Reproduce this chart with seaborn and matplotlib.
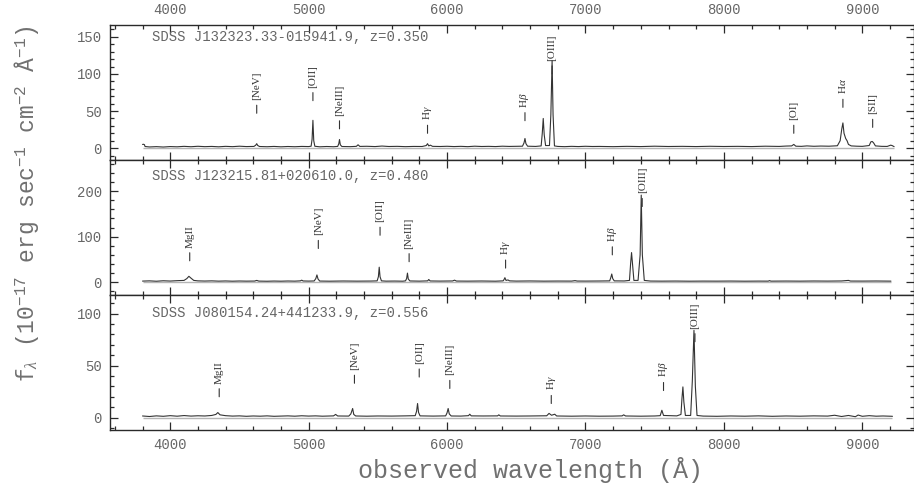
import matplotlib
matplotlib.use("Agg")
import matplotlib.pyplot as plt
from matplotlib.ticker import MultipleLocator
import pandas as pd
import seaborn as sns

# ---------------------------------------------------------------- data
# SDSS J132323.33-015941.9, z = 0.350
wave_a = [3800, 3808, 3814, 3818, 3850, 3900, 3950, 4000, 4050, 4100, 4150, 4200,
          4250, 4300, 4350, 4400, 4450, 4500, 4550, 4605, 4618, 4625, 4632, 4645,
          4700, 4750, 4800, 4850, 4900, 4950, 5000, 5018, 5025, 5031, 5037, 5045,
          5080, 5130, 5180, 5210, 5218, 5223, 5229, 5240, 5300, 5345, 5357, 5370,
          5420, 5480, 5530, 5580, 5640, 5700, 5760, 5820, 5850, 5859, 5868, 5880,
          5895, 5950, 6000, 6050, 6100, 6150, 6200, 6250, 6300, 6350, 6400, 6450,
          6500, 6545, 6556, 6563, 6570, 6582, 6640, 6680, 6688, 6695, 6702, 6712,
          6740, 6750, 6759, 6766, 6776, 6800, 6850, 6900, 6950, 7000, 7050, 7100,
          7200, 7300, 7400, 7500, 7600, 7700, 7800, 7900, 8000, 8100, 8200, 8300,
          8400, 8450, 8490, 8505, 8520, 8560, 8600, 8650, 8700, 8760, 8820, 8840,
          8852, 8860, 8868, 8880, 8890, 8900, 8920, 8960, 9000, 9050, 9062, 9072,
          9082, 9095, 9140, 9180, 9205, 9215, 9230]
flux_a = [5.0, 5.2, 4.6, 2.2, 1.6, 2.0, 1.5, 2.1, 1.8, 2.4, 1.9, 2.5,
          2.0, 2.3, 1.8, 2.4, 2.0, 2.6, 2.1, 2.3, 4.0, 6.0, 3.6, 2.2,
          1.9, 2.3, 1.8, 2.2, 1.9, 2.3, 2.1, 2.6, 12.0, 37.5, 10.0, 2.5,
          1.8, 2.2, 1.9, 2.3, 6.0, 11.6, 4.5, 2.2, 2.0, 2.4, 4.5, 2.3,
          2.5, 2.1, 2.8, 2.2, 2.4, 2.0, 2.3, 2.2, 3.5, 6.0, 3.0, 4.0,
          2.4, 2.2, 2.5, 2.1, 2.4, 2.0, 2.6, 2.2, 2.4, 2.1, 2.6, 2.3,
          2.5, 2.6, 7.0, 13.0, 6.0, 2.6, 2.3, 3.0, 20.0, 40.0, 18.0, 3.5,
          3.5, 45.0, 118.0, 45.0, 3.0, 2.3, 2.0, 2.4, 2.1, 2.5, 2.2, 2.3,
          2.0, 2.4, 2.1, 2.6, 2.2, 2.4, 2.1, 2.5, 2.2, 2.4, 2.1, 2.6,
          2.3, 2.8, 3.0, 5.0, 2.6, 2.4, 3.0, 2.5, 2.8, 2.6, 3.2, 10.0,
          26.0, 34.0, 20.0, 13.0, 10.0, 5.0, 3.0, 2.6, 2.4, 3.5, 8.5, 9.0,
          7.0, 3.0, 2.4, 2.3, 4.0, 3.5, 2.0]
lines_a = ["[NeV]", "[OII]", "[NeIII]", r"H$\gamma$", r"H$\beta$", "[OIII]",
           "[OI]", r"H$\alpha$", "[SII]"]
line_wave_a = [4625, 5031, 5223, 5859, 6563, 6759, 8505, 8860, 9075]
line_mark_a = [47, 64, 26, 20, 37, 100, 20, 55, 28]

# SDSS J123215.81+020610.0, z = 0.480
wave_b = [3800, 3850, 3900, 3950, 4000, 4050, 4100, 4120, 4135, 4150, 4170, 4200,
          4250, 4300, 4350, 4400, 4450, 4500, 4550, 4610, 4625, 4640, 4700, 4750,
          4800, 4850, 4900, 4940, 4950, 4960, 5000, 5040, 5052, 5060, 5068, 5080,
          5150, 5250, 5350, 5450, 5495, 5504, 5510, 5516, 5526, 5560, 5620, 5680,
          5700, 5708, 5714, 5720, 5732, 5800, 5860, 5868, 5878, 5950, 6040, 6054,
          6068, 6150, 6250, 6350, 6405, 6412, 6418, 6426, 6440, 6452, 6500, 6600,
          6700, 6800, 6900, 6925, 6940, 7000, 7100, 7175, 7183, 7190, 7197, 7208,
          7280, 7318, 7326, 7333, 7340, 7350, 7380, 7395, 7403, 7411, 7425, 7470,
          7550, 7650, 7750, 7850, 7950, 8050, 8150, 8250, 8320, 8330, 8340, 8450,
          8550, 8650, 8750, 8850, 8900, 8915, 9000, 9100, 9207]
flux_b = [2.5, 3.0, 2.2, 3.2, 2.6, 3.4, 4.0, 8.0, 13.0, 9.0, 4.0, 3.0,
          2.6, 3.0, 2.4, 2.8, 2.3, 2.7, 2.4, 2.6, 4.0, 2.5, 2.2, 2.6,
          2.3, 2.7, 2.4, 3.0, 4.5, 2.8, 2.5, 2.8, 8.0, 16.0, 7.0, 2.6,
          2.3, 2.7, 2.4, 2.6, 3.0, 12.0, 33.0, 12.0, 3.0, 2.4, 2.6, 2.3,
          3.0, 8.0, 20.0, 7.0, 2.8, 2.4, 3.0, 6.0, 2.8, 2.5, 2.8, 4.5,
          2.6, 2.4, 2.7, 2.3, 3.0, 6.0, 10.0, 4.0, 5.0, 3.0, 2.5, 2.8,
          2.4, 2.6, 2.5, 3.5, 2.6, 2.5, 2.7, 3.0, 10.0, 18.0, 8.0, 3.0,
          2.8, 4.0, 40.0, 65.0, 40.0, 4.0, 4.0, 60.0, 191.0, 60.0, 4.0, 2.6,
          2.4, 2.6, 2.3, 2.5, 2.4, 2.6, 2.3, 2.5, 2.4, 3.5, 2.4, 2.6,
          2.4, 2.7, 2.5, 2.8, 4.0, 2.6, 2.5, 2.7, 2.4]
lines_b = ["MgII", "[NeV]", "[OII]", "[NeIII]", r"H$\gamma$", r"H$\beta$", "[OIII]"]
line_wave_b = [4141, 5070, 5516, 5726, 6423, 7194, 7410]
line_mark_b = [47, 74, 103, 45, 31, 60, 166]

# SDSS J080154.24+441233.9, z = 0.556
wave_c = [3800, 3850, 3900, 3950, 4000, 4050, 4100, 4150, 4200, 4250, 4300, 4330,
          4344, 4360, 4400, 4450, 4500, 4550, 4600, 4650, 4700, 4750, 4800, 4850,
          4900, 4950, 5000, 5050, 5100, 5180, 5195, 5210, 5290, 5305, 5318, 5326,
          5340, 5420, 5500, 5600, 5700, 5770, 5780, 5787, 5794, 5805, 5900, 5990,
          6000, 6008, 6016, 6030, 6100, 6155, 6164, 6175, 6260, 6365, 6374, 6385,
          6500, 6600, 6720, 6737, 6755, 6778, 6792, 6900, 7000, 7100, 7200, 7265,
          7276, 7290, 7400, 7500, 7540, 7552, 7564, 7660, 7690, 7697, 7704, 7711,
          7722, 7760, 7772, 7784, 7794, 7806, 7850, 7950, 8050, 8150, 8250, 8350,
          8450, 8550, 8650, 8750, 8800, 8850, 8900, 8950, 8970, 9000, 9050, 9100,
          9150, 9218]
flux_c = [1.5, 1.0, 1.6, 1.2, 1.8, 1.3, 1.9, 1.4, 1.7, 1.5, 2.0, 3.0,
          4.8, 2.6, 1.8, 1.4, 1.6, 1.2, 1.5, 1.3, 1.6, 1.2, 1.4, 1.6,
          1.3, 1.7, 1.4, 1.6, 1.3, 1.6, 3.0, 1.5, 1.4, 3.5, 8.7, 3.0,
          1.5, 1.3, 1.5, 1.4, 1.6, 1.8, 6.0, 13.5, 5.0, 1.6, 1.4, 1.6,
          4.5, 8.7, 3.5, 1.5, 1.4, 1.8, 3.2, 1.6, 1.5, 1.6, 2.6, 1.5,
          1.4, 1.5, 1.7, 4.0, 2.2, 3.2, 1.5, 1.3, 1.5, 1.3, 1.4, 1.6,
          2.6, 1.5, 1.3, 1.5, 1.8, 7.0, 2.0, 1.6, 3.0, 18.0, 29.5, 15.0,
          2.0, 2.0, 35.0, 84.0, 30.0, 2.0, 1.4, 1.2, 1.5, 1.3, 1.6, 1.2,
          1.5, 1.3, 1.6, 1.4, 2.2, 1.0, 2.0, 0.8, 2.4, 1.2, 1.8, 1.3,
          1.5, 1.2]
lines_c = ["MgII", "[NeV]", "[OII]", "[NeIII]", r"H$\gamma$", r"H$\beta$", "[OIII]"]
line_wave_c = [4354, 5331, 5799, 6020, 6753, 7564, 7791]
line_mark_c = [20, 33, 39, 28, 13.5, 26, 73]

names = ["SDSS J132323.33-015941.9, z=0.350",
         "SDSS J123215.81+020610.0, z=0.480",
         "SDSS J080154.24+441233.9, z=0.556"]

# ---------------------------------------------------------------- style
sns.set_theme(style="ticks")
plt.rcParams.update({
    "font.family": ["Liberation Mono", "DejaVu Sans Mono"],
    "mathtext.fontset": "custom",
    "mathtext.rm": "Liberation Serif",
    "mathtext.it": "Liberation Serif:italic",
    "mathtext.tt": "Liberation Mono",
    "axes.edgecolor": "#2a2a2a",
    "axes.linewidth": 1.0,
    "xtick.color": "#2a2a2a",
    "ytick.color": "#2a2a2a",
})

TEXT = "#666666"
INK = "#333333"

panels = [
    (wave_a, flux_a, lines_a, line_wave_a, line_mark_a, (-16, 166), 50, 10, 0.91),
    (wave_b, flux_b, lines_b, line_wave_b, line_mark_b, (-28, 268), 100, 20, 0.88),
    (wave_c, flux_c, lines_c, line_wave_c, line_mark_c, (-12, 118), 50, 10, 0.87),
]

fig, axes = plt.subplots(3, 1, figsize=(9.14, 4.88), dpi=100, sharex=True)
fig.subplots_adjust(left=110 / 914, right=913.5 / 914,
                    top=1 - 25 / 488, bottom=1 - 430 / 488, hspace=0)

for ax, name, (w, f, lab, lw_, lm, ylim, major, minor, ty) in zip(axes, names, panels):
    df = pd.DataFrame({"wave": w, "flux": f})
    ax.hlines(0, w[0], w[-1], color="#b5b5b5", lw=1.0, zorder=1)
    sns.lineplot(data=df, x="wave", y="flux", ax=ax, color=INK, lw=0.8,
                 estimator=None, sort=False, zorder=2)
    ax.set_xlabel("")
    ax.set_ylabel("")
    ax.set_xlim(3565, 9370)
    ax.set_ylim(*ylim)
    ax.xaxis.set_major_locator(MultipleLocator(1000))
    ax.xaxis.set_minor_locator(MultipleLocator(200))
    ax.yaxis.set_major_locator(MultipleLocator(major))
    ax.yaxis.set_minor_locator(MultipleLocator(minor))
    ax.tick_params(which="both", direction="in", top=True, right=True,
                   labelsize=10, labelcolor=TEXT, width=0.9)
    ax.tick_params(which="major", length=6, pad=6)
    ax.tick_params(which="minor", length=3)

    ax.text(0.052, ty, name, transform=ax.transAxes, ha="left", va="center",
            fontsize=10, color=TEXT)

    # emission-line identifications: a short tick with the name above it
    for text, lw0, ym in zip(lab, lw_, lm):
        ax.annotate("", xy=(lw0, ym), xytext=(0, 5.8), textcoords="offset points",
                    arrowprops=dict(arrowstyle="-", color=INK, lw=0.8,
                                    shrinkA=0, shrinkB=0))
        ax.annotate(text, xy=(lw0, ym), xytext=(0, 9.4), textcoords="offset points",
                    rotation=90, ha="center", va="bottom", fontsize=8,
                    family=["Liberation Serif", "DejaVu Serif"], color="#333333")

axes[0].tick_params(labeltop=True)

fig.text(531 / 914, 1 - 470 / 488, "observed wavelength (Å)", ha="center",
         va="center", fontsize=18, color="#707070")
fig.text(27 / 914, 1 - 204 / 488,
         r"f$_\lambda$ (10$^{\mathtt{-17}}$ erg sec$^{\mathtt{-1}}$ cm$^{\mathtt{-2}}$ "
         r"Å$^{\mathtt{-1}}$)",
         rotation=90, ha="center", va="center", fontsize=16.5, color="#707070")

fig.savefig("out.png", dpi=100)
